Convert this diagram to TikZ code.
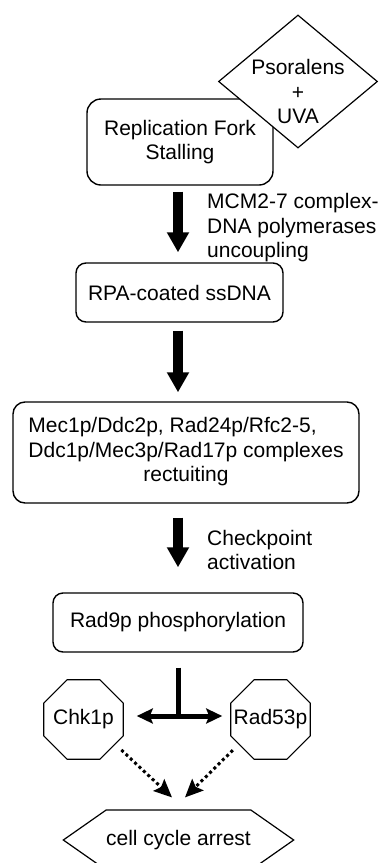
\documentclass[tikz,border=0pt]{standalone}
\usepackage{fontspec}
\setmainfont{Liberation Sans}
\usetikzlibrary{shapes.geometric,shapes.symbols,arrows.meta}
\begin{document}
\begin{tikzpicture}[x=1pt,y=-1pt,
  every node/.style={font=\fontsize{21}{24.5}\selectfont, inner sep=0pt},
  stepbox/.style={draw, line width=1.4pt, rounded corners=12pt, align=center},
  bigarrow/.style={line width=10pt, -{Triangle[length=20pt,width=21pt]}},
  tarrow/.style={line width=5pt, {Stealth[length=16pt,width=15pt,inset=3pt]}-{Stealth[length=16pt,width=15pt,inset=3pt]}},
  dotarrow/.style={line width=3pt, dash pattern=on 3pt off 3pt, shorten <=8pt, -{Stealth[length=18pt,width=16pt,inset=3pt]}},
  octa/.style={draw, line width=1.1pt, regular polygon, regular polygon sides=8, minimum size=86pt},
]
\useasboundingbox (0,0) rectangle (380,863);
\coordinate (axis) at (178,0);

% process boxes
\node[stepbox, minimum width=186pt, minimum height=86pt, rounded corners=14pt] (fork) at (180,142) {Replication Fork\\Stalling};
\node[diamond, draw, fill=white, line width=1.2pt, minimum width=159pt, minimum height=133pt,
      label={[align=center,yshift=-10pt]center:Psoralens\\+\\UVA}] (psor) at (298,81.5) {};
\node[stepbox, minimum width=207pt, minimum height=59pt, rounded corners=10pt] (rpa) at (179.5,292.5) {RPA-coated ssDNA};
\node[stepbox, minimum width=346pt, minimum height=101pt] (mec) at (186,452.5)
  {\begin{tabular}{@{}l@{}}Mec1p/Ddc2p, Rad24p/Rfc2-5,\\Ddc1p/Mec3p/Rad17p complexes\\\multicolumn{1}{@{}c@{}}{rectuiting}\end{tabular}};
\node[stepbox, minimum width=250pt, minimum height=59pt, rounded corners=10pt] (rad9) at (178,622.5) {Rad9p phosphorylation};

% kinases and outcome
\node[octa] (chk) at (83.5,719.5) {\makebox[40pt]{Chk1p}};
\node[octa] (rad) at (270.5,719.5) {\makebox[40pt]{Rad53p}};
\node[draw, line width=1.2pt, signal, signal to=west and east, signal pointer angle=70,
      minimum width=207pt, minimum height=60pt] (arrest) at (178.5,840) {cell cycle arrest};

% step labels
\node[anchor=west, align=left] (mcmlbl) at (207,228) {MCM2-7 complex-\\DNA polymerases\\uncoupling};
\node[anchor=west, align=left] (cklbl) at (207,550) {Checkpoint\\activation};

% main pathway arrows
\draw[bigarrow] ([yshift=-6pt]fork.south -| axis) -- ([yshift=10pt]rpa.north -| axis);
\draw[bigarrow] ([yshift=-8pt]rpa.south -| axis) -- ([yshift=9pt]mec.north -| axis);
\draw[bigarrow] ([yshift=-14pt]mec.south -| axis) -- ([yshift=25pt]rad9.north -| axis);

% branching to the two kinases
\coordinate (split) at (178,716);
\draw[line width=5pt] ([yshift=-15pt]rad9.south) -- (split);
\draw[tarrow] ([xshift=13pt]chk.east |- split) -- ([xshift=-8pt]rad.west |- split);

% kinases to arrest
\draw[dotarrow] (chk.-38) -- ([xshift=-6.5pt,yshift=12pt]arrest.north);
\draw[dotarrow] (rad.-142) -- ([xshift=6.5pt,yshift=12pt]arrest.north);
\end{tikzpicture}
\end{document}
